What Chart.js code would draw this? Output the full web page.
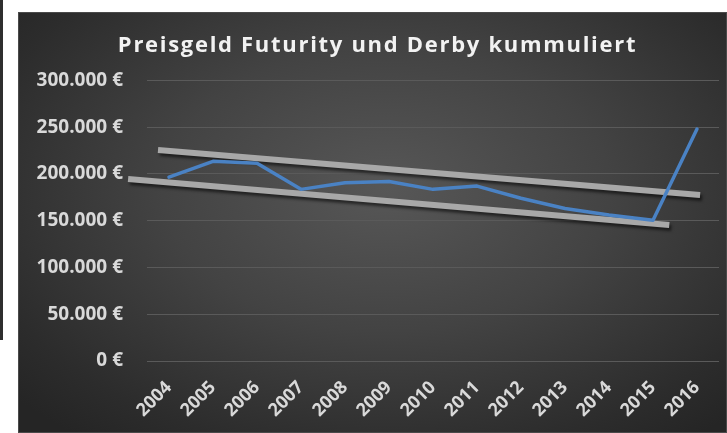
<!DOCTYPE html>
<html>
<head>
<meta charset="utf-8">
<script src="https://cdn.jsdelivr.net/npm/chart.js@4/dist/chart.umd.min.js"></script>
<style>
  html, body { margin: 0; padding: 0; background: #fff; width: 727px; height: 433px; overflow: hidden; }
  #bar { position: absolute; left: 0; top: 0; width: 3px; height: 340px; background: #2e2e2e; }
  #panel {
    position: absolute; left: 18px; top: 12px; width: 709px; height: 421px;
    background: radial-gradient(ellipse 70% 75% at 52% 42%, #575757 0%, #434343 45%, #2c2c2c 85%, #252525 100%);
    box-shadow: inset 0 0 0 1px #4a4a4a;
  }
  #chart { display: block; }
</style>
</head>
<body>
<div id="bar"></div>
<div id="panel"><canvas id="chart" width="709" height="421"></canvas></div>
<script>
var years = ["2004", "2005", "2006", "2007", "2008", "2009", "2010", "2011", "2012", "2013", "2014", "2015", "2016"];
var prizeMoney = [196500, 213500, 211500, 183500, 190500, 192000, 183500, 187000, 174000, 163000, 156000, 150500, 248000];

// hand-drawn channel lines, x in category index units
var upperLineX = [-0.25, 12.07];
var upperLineY = [225500, 177500];
var lowerLineX = [-0.93, 11.37];
var lowerLineY = [194500, 145500];

var yTicks = [0, 50000, 100000, 150000, 200000, 250000, 300000];

function euro(v) {
    if (v === 0) return "0 €";
    return String(v).replace(/\B(?=(\d{3})+(?!\d))/g, ".") + " €";
}

function pts(xs, ys) {
    return xs.map(function(x, i) { return { x: x, y: ys[i] }; });
}

var shadowPlugin = {
    id: "shadow",
    beforeDatasetDraw: function(chart, args) {
        if (args.index === 0) return;
        var ctx = chart.ctx;
        ctx.save();
        ctx.shadowColor = "rgba(0,0,0,0.55)";
        ctx.shadowOffsetX = 2;
        ctx.shadowOffsetY = 3;
        ctx.shadowBlur = 3;
    },
    afterDatasetDraw: function(chart, args) {
        if (args.index === 0) return;
        chart.ctx.restore();
    }
};

var labelColor = "#d9d9d9";
var font = "Open Sans";

var chart = new Chart(document.getElementById("chart"), {
    type: "line",
    data: {
        labels: years,
        datasets: [
            { data: prizeMoney, borderColor: "#4a82c4", borderWidth: 3.5, pointRadius: 0, tension: 0, xAxisID: "x", yAxisID: "y", borderCapStyle: "round", borderJoinStyle: "round" },
            { data: pts(upperLineX, upperLineY), borderColor: "#a8a8a8", borderWidth: 6, pointRadius: 0, xAxisID: "x2", yAxisID: "y", clip: false },
            { data: pts(lowerLineX, lowerLineY), borderColor: "#a8a8a8", borderWidth: 6, pointRadius: 0, xAxisID: "x2", yAxisID: "y", clip: false },
        ],
    },
    options: {
        animation: false,
        responsive: false,
        events: [],
        layout: { padding: { left: 0, right: 8, top: 0, bottom: 0 } },
        plugins: {
            legend: { display: false },
            tooltip: { enabled: false },
            title: {
                display: true,
                text: "Preisgeld Futurity und Derby kummuliert",
                color: "#f2f2f2",
                font: { family: font, size: 22, weight: "bold", lineHeight: 1.2 },
                padding: { top: 21, bottom: 21 },
            },
        },
        scales: {
            x: {
                type: "category",
                offset: true,
                grid: { display: false },
                border: { display: false },
                ticks: { color: labelColor, font: { family: font, size: 18, weight: "bold" }, minRotation: 45, maxRotation: 45, padding: 8 },
                afterFit: function(s) { s.height = 72; },
            },
            x2: {
                type: "linear",
                display: false,
                min: -0.5,
                max: 12.5,
            },
            y: {
                min: 0,
                max: 300000,
                afterBuildTicks: function(s) { s.ticks = yTicks.map(function(v) { return { value: v }; }); },
                grid: { color: "#5a5a5a", lineWidth: 1, drawTicks: false },
                border: { display: false },
                ticks: { color: labelColor, font: { family: font, size: 19, weight: "bold" }, padding: 24, callback: function(v) { return euro(v); } },
                afterFit: function(s) { s.width = 129; },
            },
        },
    },
    plugins: [shadowPlugin],
});

// wider letter spacing on the title, as in the original
var tb = chart.titleBlock;
var drawTitle = tb.draw.bind(tb);
tb.draw = function() {
    var ctx = chart.ctx;
    ctx.save();
    ctx.translate(9, 0);
    ctx.letterSpacing = "1.7px";
    drawTitle();
    ctx.restore();
};
chart.draw();
</script>
</body>
</html>
